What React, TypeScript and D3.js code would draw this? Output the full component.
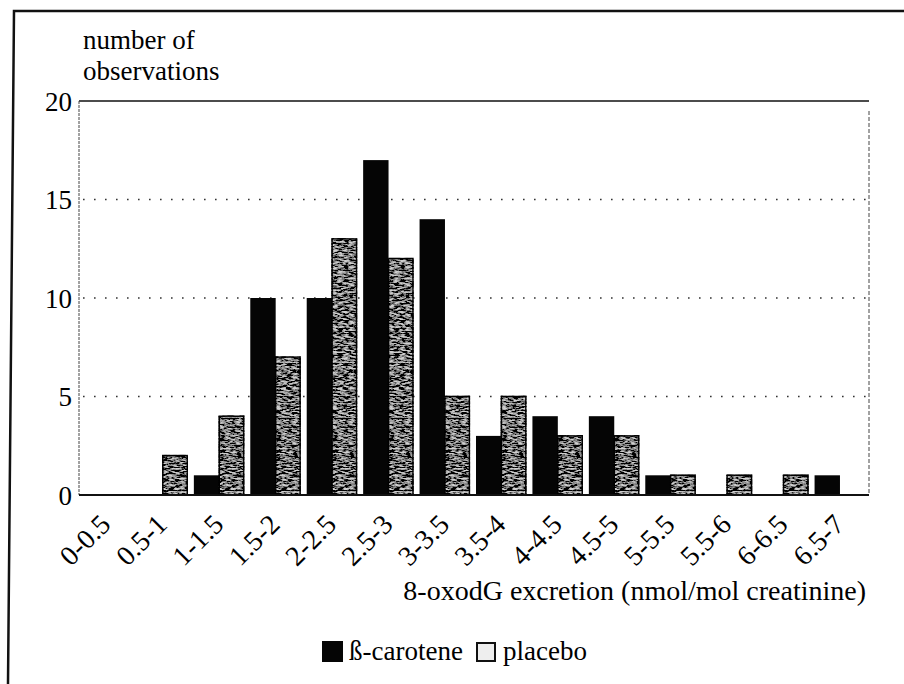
import React, { useRef, useEffect } from 'react';
import * as d3 from 'd3';

const categories = ['0-0.5', '0.5-1', '1-1.5', '1.5-2', '2-2.5', '2.5-3', '3-3.5', '3.5-4', '4-4.5', '4.5-5', '5-5.5', '5.5-6', '6-6.5', '6.5-7'];
const betaCarotene = [0, 0, 1, 10, 10, 17, 14, 3, 4, 4, 1, 0, 0, 1];
const placebo = [0, 2, 4, 7, 13, 12, 5, 5, 3, 3, 1, 1, 1, 0];
const yTicks = [0, 5, 10, 15, 20];

const FONT = '"Liberation Serif", "Times New Roman", serif';

const App = () => {
  const ref = useRef<SVGSVGElement>(null);

  useEffect(() => {
    if (!ref.current) return;
    const svg = d3.select(ref.current);
    svg.selectAll('*').remove();

    const width = 904;
    const height = 684;
    const m = { left: 79, right: 869, top: 101, bottom: 495 };

    // stipple texture for the placebo bars
    const defs = svg.append('defs');
    const f = defs.append('filter').attr('id', 'stipple').attr('x', '-5%').attr('y', '-5%').attr('width', '110%').attr('height', '110%');
    f.append('feTurbulence').attr('type', 'fractalNoise').attr('baseFrequency', '0.18 0.6').attr('numOctaves', 3).attr('seed', 7).attr('result', 'noise');
    f.append('feColorMatrix').attr('in', 'noise').attr('type', 'matrix')
      .attr('values', '0 0 0 0 0  0 0 0 0 0  0 0 0 0 0  3.6 0 0 0 -1.1').attr('result', 'dots');
    f.append('feComposite').attr('in', 'dots').attr('in2', 'SourceGraphic').attr('operator', 'in').attr('result', 'clipped');
    const merge = f.append('feMerge');
    merge.append('feMergeNode').attr('in', 'SourceGraphic');
    merge.append('feMergeNode').attr('in', 'clipped');

    // outer frame
    svg.append('path')
      .attr('d', `M8,${height} L14,11 L${width},11`)
      .attr('fill', 'none').attr('stroke', '#111').attr('stroke-width', 2.5);

    const x0 = d3.scaleBand<string>().domain(categories).range([m.left, m.right]).padding(0);
    const x1 = d3.scaleBand<string>().domain(['beta', 'placebo']).range([2, 2 + x0.bandwidth() * 0.9]).padding(0);
    const y = d3.scaleLinear().domain([0, 20]).range([m.bottom, m.top]);

    // gridlines
    svg.append('g').selectAll('line').data([5, 10, 15]).join('line')
      .attr('x1', m.left + 4).attr('x2', m.right)
      .attr('y1', d => y(d)).attr('y2', d => y(d))
      .attr('stroke', '#333').attr('stroke-width', 1.6).attr('stroke-dasharray', '1.6 9.4');

    // plot frame
    svg.append('line').attr('x1', m.left).attr('x2', m.right).attr('y1', m.top).attr('y2', m.top)
      .attr('stroke', '#111').attr('stroke-width', 1.5);
    svg.append('line').attr('x1', m.left).attr('x2', m.left).attr('y1', m.top).attr('y2', m.bottom)
      .attr('stroke', '#444').attr('stroke-width', 1).attr('stroke-dasharray', '3 1');
    svg.append('line').attr('x1', m.right).attr('x2', m.right).attr('y1', m.top + 10).attr('y2', m.bottom)
      .attr('stroke', '#444').attr('stroke-width', 1).attr('stroke-dasharray', '4 2');

    // bars
    const groups = svg.append('g').selectAll('g').data(categories).join('g')
      .attr('transform', d => `translate(${x0(d)},0)`);

    groups.append('rect')
      .attr('x', x1('beta')!)
      .attr('width', x1.bandwidth())
      .attr('y', (_, i) => y(betaCarotene[i]))
      .attr('height', (_, i) => m.bottom - y(betaCarotene[i]))
      .attr('fill', '#050505');

    groups.filter((_, i) => placebo[i] > 0).append('rect')
      .attr('x', x1('placebo')!)
      .attr('width', x1.bandwidth() - 1)
      .attr('y', (d) => y(placebo[categories.indexOf(d)]))
      .attr('height', (d) => m.bottom - y(placebo[categories.indexOf(d)]))
      .attr('fill', '#cfcfcf')
      .attr('stroke', '#111').attr('stroke-width', 1.5)
      .attr('filter', 'url(#stipple)');

    // x axis line
    svg.append('line').attr('x1', m.left).attr('x2', m.right).attr('y1', m.bottom).attr('y2', m.bottom)
      .attr('stroke', '#111').attr('stroke-width', 2);

    // x tick labels
    svg.append('g').selectAll('text').data(categories).join('text')
      .attr('transform', d => `translate(${x0(d)! + x0.bandwidth() / 2 + 5},${m.bottom + 31}) rotate(-45)`)
      .attr('text-anchor', 'end')
      .attr('font-family', FONT).attr('font-size', 28)
      .text(d => d);

    // y tick labels
    svg.append('g').selectAll('text').data(yTicks).join('text')
      .attr('x', 72).attr('y', d => y(d)).attr('dy', '0.36em')
      .attr('text-anchor', 'end')
      .attr('font-family', FONT).attr('font-size', 27)
      .text(d => d);

    // y title
    const yt = svg.append('text').attr('font-family', FONT).attr('font-size', 27);
    yt.append('tspan').attr('x', 83).attr('y', 49).text('number of');
    yt.append('tspan').attr('x', 83).attr('y', 80).text('observations');

    // x title
    svg.append('text')
      .attr('x', 866).attr('y', 600).attr('text-anchor', 'end')
      .attr('font-family', FONT).attr('font-size', 28)
      .text('8-oxodG excretion (nmol/mol creatinine)');

    // legend
    svg.append('rect').attr('x', 322).attr('y', 641).attr('width', 21).attr('height', 21).attr('fill', '#050505');
    svg.append('text').attr('x', 349).attr('y', 660).attr('font-family', FONT).attr('font-size', 27).text('ß-carotene');
    svg.append('rect').attr('x', 477).attr('y', 643).attr('width', 18).attr('height', 18)
      .attr('fill', '#eeeeee').attr('stroke', '#111').attr('stroke-width', 2);
    svg.append('text').attr('x', 503).attr('y', 660).attr('font-family', FONT).attr('font-size', 27).text('placebo');
  }, []);

  return (
    <svg ref={ref} width={904} height={684}
      style={{ position: 'absolute', left: 0, top: 0, background: '#fff', display: 'block' }} />
  );
};

export default App;
